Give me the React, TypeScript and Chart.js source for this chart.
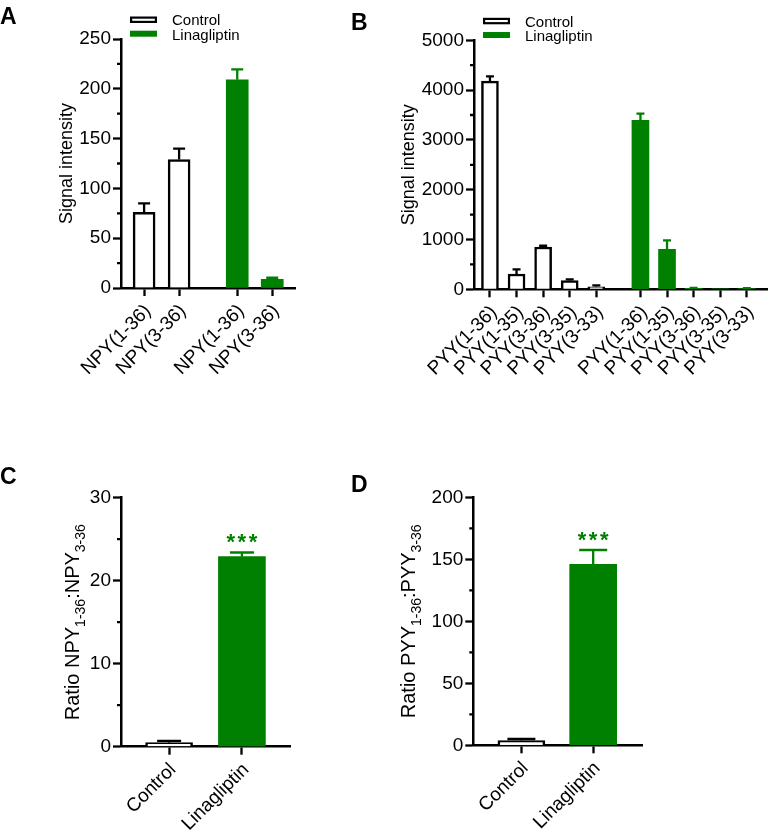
import React, { useEffect, useRef } from 'react';
import { Chart, registerables } from 'chart.js';
Chart.register(...registerables);

const FONT = "'Liberation Sans', Arial, Helvetica, sans-serif";
const GREEN = '#008000';
const BLACK = '#000000';

// ---- Panel A: NPY signal intensity ----
const npyCategories = ['NPY(1-36)', 'NPY(3-36)'];
const npyControl = [76, 129];
const npyControlErr = [9, 11];
const npyLina = [209, 8.7];
const npyLinaErr = [10.5, 1.6];
const npyTicks = [0, 50, 100, 150, 200, 250];

// ---- Panel B: PYY signal intensity ----
const pyyCategories = ['PYY(1-36)', 'PYY(1-35)', 'PYY(3-36)', 'PYY(3-35)', 'PYY(3-33)'];
const pyyControl = [4180, 307, 850, 173, 52];
const pyyControlErr = [95, 93, 25, 27, 28];
const pyyLina = [3394, 803, 20, 2, 15];
const pyyLinaErr = [133, 181, 10, 0, 8];
const pyyTicks = [0, 1000, 2000, 3000, 4000, 5000];

// ---- Panels C / D: ratios ----
const ratioGroups = ['Control', 'Linagliptin'];
const npyRatio = [0.5, 22.9];
const npyRatioErr = [0.2, 0.5];
const npyRatioTicks = [0, 10, 20, 30];
const pyyRatio = [3.8, 146];
const pyyRatioErr = [1.3, 11.5];
const pyyRatioTicks = [0, 50, 100, 150, 200];
const significance = ['', '***'];

const seriesNames = ['Control', 'Linagliptin'];

const GROUP_GAP = 0.66;

const errorBarPlugin = {
  id: 'errorBars',
  afterDatasetsDraw(chart: any, _args: any, opts: any) {
    const { ctx } = chart;
    const yScale = chart.scales.y;
    chart.data.datasets.forEach((ds: any, di: number) => {
      if (!ds.errors) return;
      const meta = chart.getDatasetMeta(di);
      meta.data.forEach((el: any, i: number) => {
        const raw = ds.data[i];
        const v = typeof raw === 'object' ? raw.y : raw;
        const e = ds.errors[i];
        if (!e) return;
        const yTop = yScale.getPixelForValue(v);
        const yErr = yScale.getPixelForValue(v + e);
        const color = Array.isArray(ds.errorColor) ? ds.errorColor[i] : ds.errorColor;
        ctx.save();
        ctx.strokeStyle = color;
        ctx.lineWidth = opts.lineWidth || 2.3;
        ctx.beginPath();
        ctx.moveTo(el.x, yTop);
        ctx.lineTo(el.x, yErr);
        ctx.moveTo(el.x - opts.cap / 2, yErr);
        ctx.lineTo(el.x + opts.cap / 2, yErr);
        ctx.stroke();
        ctx.restore();
      });
    });
  },
};

const decorPlugin = {
  id: 'decor',
  afterDraw(chart: any, _args: any, opts: any) {
    const { ctx, chartArea } = chart;
    const yScale = chart.scales.y;
    ctx.save();
    // minor ticks
    if (opts.minor) {
      ctx.strokeStyle = BLACK;
      ctx.lineWidth = 2.3;
      ctx.beginPath();
      for (let v = opts.minor; v < yScale.max; v += opts.minor) {
        if (Math.abs(v / opts.major - Math.round(v / opts.major)) < 1e-6) continue;
        const y = yScale.getPixelForValue(v);
        ctx.moveTo(chartArea.left - 4, y);
        ctx.lineTo(chartArea.left, y);
      }
      ctx.stroke();
    }
    // panel letter
    if (opts.letter) {
      ctx.fillStyle = BLACK;
      ctx.font = `bold 23px ${FONT}`;
      ctx.textAlign = 'left';
      ctx.textBaseline = 'alphabetic';
      ctx.fillText(opts.letter.text, opts.letter.x, opts.letter.y);
    }
    // y title with optional subscripts
    if (opts.yTitle) {
      const t = opts.yTitle;
      ctx.save();
      ctx.translate(chartArea.left - t.dist, (chartArea.top + chartArea.bottom) / 2);
      ctx.rotate(-Math.PI / 2);
      ctx.fillStyle = BLACK;
      ctx.textAlign = 'left';
      ctx.textBaseline = 'alphabetic';
      const widths = t.segments.map((s: any) => {
        ctx.font = `${s.sub ? t.subSize : t.size}px ${FONT}`;
        return ctx.measureText(s.text).width;
      });
      const total = widths.reduce((a: number, b: number) => a + b, 0);
      let x = -total / 2;
      t.segments.forEach((s: any, i: number) => {
        ctx.font = `${s.sub ? t.subSize : t.size}px ${FONT}`;
        ctx.fillText(s.text, x, s.sub ? t.subShift : 0);
        x += widths[i];
      });
      ctx.restore();
    }
    // legend
    if (opts.legend) {
      const lx = chartArea.left + 9;
      const tops = [chartArea.top - 22.5, chartArea.top - 8.3];
      chart.data.datasets.forEach((ds: any, i: number) => {
        const top = tops[i];
        if (i === 0) {
          ctx.fillStyle = '#ffffff';
          ctx.fillRect(lx, top, 27, 6.5);
          ctx.strokeStyle = BLACK;
          ctx.lineWidth = 2.2;
          ctx.strokeRect(lx + 1.1, top + 1.1, 27 - 2.2, 6.5 - 2.2);
        } else {
          ctx.fillStyle = GREEN;
          ctx.fillRect(lx, top, 27, 6);
        }
        ctx.fillStyle = BLACK;
        ctx.font = `15px ${FONT}`;
        ctx.textAlign = 'left';
        ctx.textBaseline = 'alphabetic';
        ctx.fillText(ds.label, lx + 42, top + 3.3 + 5.5);
      });
    }
    // significance stars
    if (opts.stars) {
      const ds = chart.data.datasets[0];
      const meta = chart.getDatasetMeta(0);
      opts.stars.forEach((s: string, i: number) => {
        if (!s) return;
        const v = ds.data[i].y + (ds.errors ? ds.errors[i] : 0);
        const y = yScale.getPixelForValue(v);
        ctx.fillStyle = GREEN;
        ctx.font = `bold 22px ${FONT}`;
        (ctx as any).letterSpacing = '2.5px';
        ctx.textAlign = 'center';
        ctx.textBaseline = 'alphabetic';
        ctx.fillText(s, meta.data[i].x + 1.2, y - 3);
        (ctx as any).letterSpacing = '0px';
      });
    }
    ctx.restore();
  },
};

function groupedDatasets(cats: string[], ctrl: number[], ctrlErr: number[], lina: number[], linaErr: number[], thick: number) {
  const n = cats.length;
  return [
    {
      label: seriesNames[0],
      data: ctrl.map((y, i) => ({ x: i, y })),
      errors: ctrlErr,
      errorColor: BLACK,
      backgroundColor: '#ffffff',
      borderColor: BLACK,
      borderWidth: 2.5,
      barThickness: thick,
      grouped: false,
    },
    {
      label: seriesNames[1],
      data: lina.map((y, i) => ({ x: n + GROUP_GAP + i, y })),
      errors: linaErr,
      errorColor: GREEN,
      backgroundColor: GREEN,
      borderWidth: 0,
      barThickness: thick,
      grouped: false,
    },
  ];
}

function ratioDataset(values: number[], errs: number[], thick: number) {
  return [
    {
      label: 'Ratio',
      data: values.map((y, i) => ({ x: i, y })),
      errors: errs,
      errorColor: [BLACK, GREEN],
      backgroundColor: ['#ffffff', GREEN],
      borderColor: [BLACK, GREEN],
      borderWidth: [2.5, 0],
      barThickness: thick,
      grouped: false,
    },
  ];
}

const panels: any[] = [
  {
    key: 'A',
    box: { left: 0, top: 0, w: 340, h: 400 },
    area: { left: 121, top: 39, right: 295, bottom: 288 },
    xMin: -0.66, xMax: 4.31,
    datasets: groupedDatasets(npyCategories, npyControl, npyControlErr, npyLina, npyLinaErr, 22),
    labels: [...npyCategories, ...npyCategories],
    yTicks: npyTicks, minor: 25, cap: 12,
    yTitle: { segments: [{ text: 'Signal intensity' }], size: 18, dist: 49 },
    legend: true,
    letter: { text: 'A', x: 0, y: 24 },
  },
  {
    key: 'B',
    box: { left: 340, top: 0, w: 428, h: 400 },
    area: { left: 134, top: 40.3, right: 427, bottom: 289.3 },
    xMin: -0.6, xMax: 10.42,
    datasets: groupedDatasets(pyyCategories, pyyControl, pyyControlErr, pyyLina, pyyLinaErr, 17),
    labels: [...pyyCategories, ...pyyCategories],
    yTicks: pyyTicks, minor: 500, cap: 8,
    yTitle: { segments: [{ text: 'Signal intensity' }], size: 18, dist: 60 },
    legend: true,
    letter: { text: 'B', x: 11, y: 30 },
  },
  {
    key: 'C',
    box: { left: 0, top: 400, w: 340, h: 435 },
    area: { left: 121, top: 97.7, right: 290, bottom: 346.7 },
    xMin: -0.66, xMax: 1.66,
    datasets: ratioDataset(npyRatio, npyRatioErr, 47),
    labels: ratioGroups,
    yTicks: npyRatioTicks, minor: 5, cap: 24,
    yTitle: {
      segments: [{ text: 'Ratio NPY' }, { text: '1-36', sub: true }, { text: ':NPY' }, { text: '3-36', sub: true }],
      size: 20, subSize: 14, subShift: 6, dist: 42,
    },
    stars: significance,
    letter: { text: 'C', x: 0, y: 84 },
  },
  {
    key: 'D',
    box: { left: 340, top: 400, w: 428, h: 435 },
    area: { left: 133.3, top: 97.3, right: 302, bottom: 345.3 },
    xMin: -0.67, xMax: 1.68,
    datasets: ratioDataset(pyyRatio, pyyRatioErr, 47),
    labels: ratioGroups,
    yTicks: pyyRatioTicks, minor: 25, cap: 28,
    yTitle: {
      segments: [{ text: 'Ratio PYY' }, { text: '1-36', sub: true }, { text: ':PYY' }, { text: '3-36', sub: true }],
      size: 20, subSize: 14, subShift: 6, dist: 58,
    },
    stars: significance,
    letter: { text: 'D', x: 11, y: 91.7 },
  },
];

function buildConfig(p: any): any {
  const positions: number[] = [];
  p.datasets.forEach((ds: any) => ds.data.forEach((d: any) => positions.push(d.x)));
  positions.sort((a, b) => a - b);
  const yTicks: number[] = p.yTicks;
  const yMax = yTicks[yTicks.length - 1];
  const major = yTicks[1] - yTicks[0];
  return {
    type: 'bar',
    data: { datasets: p.datasets },
    options: {
      animation: false,
      responsive: false,
      devicePixelRatio: 1,
      layout: { padding: { left: 0, top: p.area.top, right: p.box.w - p.area.right, bottom: 0 } },
      plugins: {
        legend: { display: false },
        tooltip: { enabled: false },
        errorBars: { cap: p.cap, lineWidth: 2.3 },
        decor: {
          minor: p.minor, major,
          letter: p.letter, yTitle: p.yTitle, legend: p.legend, stars: p.stars,
        },
      },
      scales: {
        x: {
          type: 'linear',
          min: p.xMin,
          max: p.xMax,
          offset: false,
          afterBuildTicks: (s: any) => { s.ticks = positions.map((v) => ({ value: v })); },
          afterFit: (s: any) => { s.height = p.box.h - p.area.bottom; },
          grid: { offset: false, drawOnChartArea: false, drawTicks: true, tickLength: 8, tickWidth: 2.3, tickColor: BLACK },
          border: { display: true, color: BLACK, width: 2.5 },
          ticks: {
            autoSkip: false, maxRotation: 45, minRotation: 45, padding: 4, labelOffset: 4,
            color: BLACK, font: { size: 19, family: FONT },
            callback: (_v: any, i: number) => p.labels[i],
          },
        },
        y: {
          type: 'linear',
          min: 0,
          max: yMax,
          afterBuildTicks: (s: any) => { s.ticks = yTicks.map((v) => ({ value: v })); },
          afterFit: (s: any) => { s.width = p.area.left; },
          grid: { drawOnChartArea: false, drawTicks: true, tickLength: 8, tickWidth: 2.3, tickColor: BLACK },
          border: { display: true, color: BLACK, width: 2.5 },
          ticks: {
            padding: 2, color: BLACK, font: { size: 19, family: FONT },
            callback: (v: any) => String(v),
          },
        },
      },
    },
    plugins: [errorBarPlugin, decorPlugin],
  };
}

function Panel({ p }: { p: any }) {
  const ref = useRef<HTMLCanvasElement>(null);
  useEffect(() => {
    const chart = new Chart(ref.current as HTMLCanvasElement, buildConfig(p));
    return () => chart.destroy();
  }, [p]);
  return (
    <canvas
      ref={ref}
      width={p.box.w}
      height={p.box.h}
      style={{ position: 'absolute', left: p.box.left, top: p.box.top, width: p.box.w, height: p.box.h }}
    />
  );
}

export default function App() {
  return (
    <div style={{ position: 'absolute', left: 0, top: 0, width: 768, height: 835, background: '#ffffff' }}>
      {panels.map((p) => (
        <Panel key={p.key} p={p} />
      ))}
    </div>
  );
}
